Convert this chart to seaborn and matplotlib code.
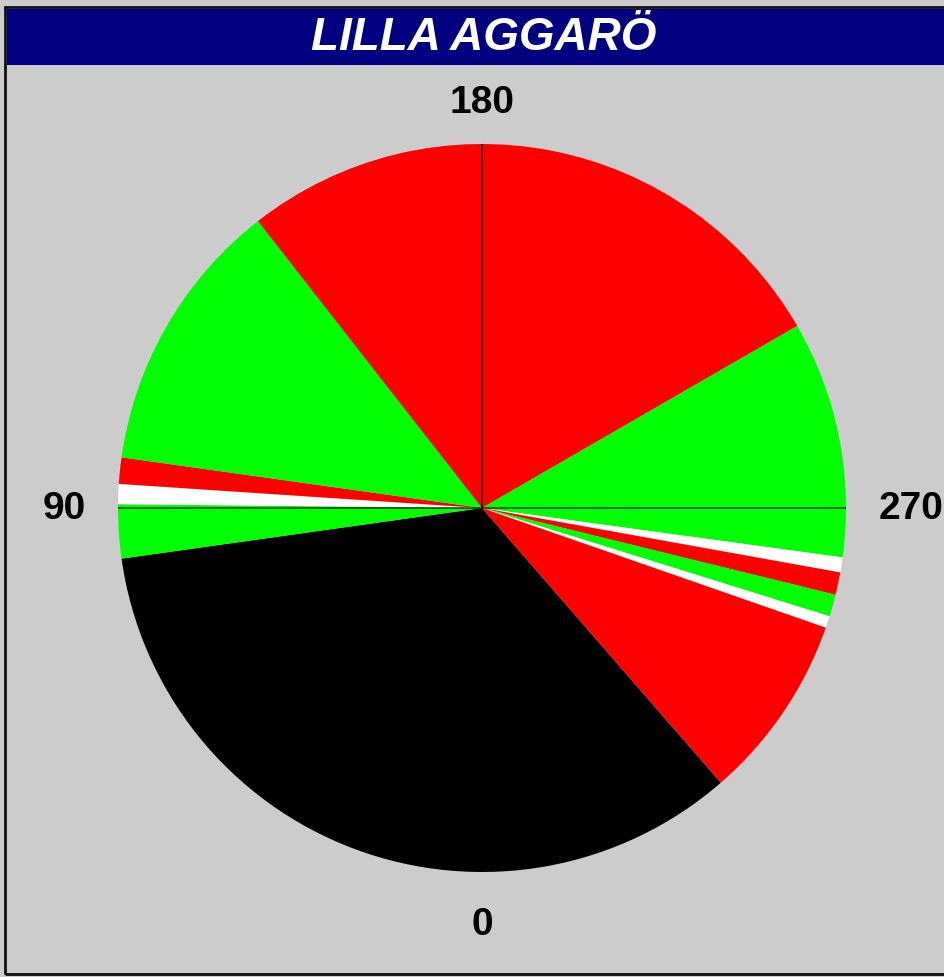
import matplotlib
matplotlib.use("Agg")
import matplotlib.pyplot as plt
from matplotlib.patches import Rectangle
import numpy as np
import seaborn as sns

# ---- data: light sectors (bearings in degrees, clockwise from bottom "0") ----
sector_start = [319, 82, 90.6, 93.8, 98, 142, 240, 277.8, 280.2, 283.8, 287.3, 289.2]
sector_end   = [82, 90.6, 93.8, 98, 142, 240, 277.8, 280.2, 283.8, 287.3, 289.2, 319]
sector_light = ["dark", "G", "W", "R", "G", "R", "G", "W", "R", "G", "W", "R"]
axis_labels = ["0", "90", "180", "270"]
axis_bearings = [0, 90, 180, 270]
title = "LILLA AGGARÖ"

light_colors = {"dark": "#000000", "G": "#00FF00", "W": "#FFFFFF", "R": "#FF0000"}

sns.set_style("white")
plt.rcParams["font.family"] = ["Liberation Sans Narrow", "Liberation Sans", "DejaVu Sans"]
plt.rcParams["text.color"] = "black"

W, H = 944, 978
fig = plt.figure(figsize=(W / 100, H / 100), dpi=100)
fig.patch.set_facecolor("#CCCCCC")

def px(x, y):
    return x / W, 1 - y / H

fig.add_artist(Rectangle(px(5, 975), (W + 10) / W, (975 - 8) / H, transform=fig.transFigure,
                         facecolor="none", edgecolor="#111111", lw=2))
fig.add_artist(Rectangle(px(7, 66), (W - 7) / W, (66 - 10) / H, transform=fig.transFigure,
                         facecolor="#000080", edgecolor="none"))
fig.text(484 / W, 1 - 38 / H, title, color="white", fontsize=33, fontweight="bold",
         fontstyle="italic", ha="center", va="center")

# pie axes
cx, cy, R = 482, 509, 364
ax = fig.add_axes([(cx - R) / W, (H - cy - R) / H, 2 * R / W, 2 * R / H])
ax.set_facecolor("none")

sizes = [((e - s) % 360) for s, e in zip(sector_start, sector_end)]
colors = [light_colors[c] for c in sector_light]
# bearing b -> math angle: -90 - b ; pie drawn clockwise
start_math = -90 - sector_start[0]
ax.pie(sizes, colors=colors, startangle=start_math, counterclock=False, radius=1.0,
       wedgeprops=dict(linewidth=0, antialiased=True))

# crosshair
ax.plot([-1, 1], [0, 0], color="black", lw=1.2, alpha=0.7)
ax.plot([0, 0], [-1, 1], color="black", lw=1.2, alpha=0.8)

# bearing labels
label_pos = {0: (0, -1.143), 90: (-1.148, 0), 180: (0, 1.115), 270: (1.178, 0)}
for lab, b in zip(axis_labels, axis_bearings):
    x, y = label_pos[b]
    ax.text(x, y, lab, ha="center", va="center", fontsize=28, fontweight="bold",
            color="black", clip_on=False)

ax.set_xlim(-1, 1)
ax.set_ylim(-1, 1)
ax.set_aspect("auto")
ax.axis("off")

fig.savefig("out.png", dpi=100, facecolor=fig.get_facecolor())
